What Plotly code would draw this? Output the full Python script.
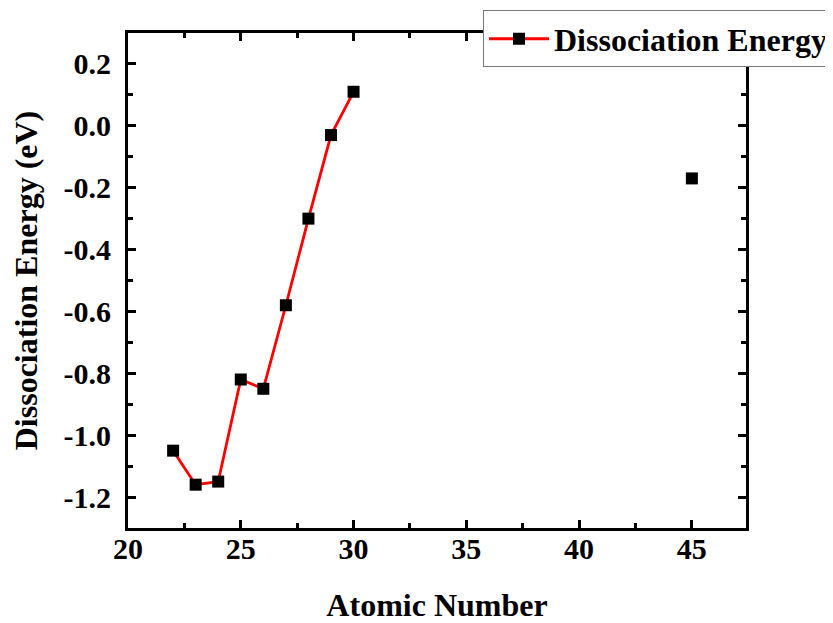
import plotly.graph_objects as go

atomic_number = [22, 23, 24, 25, 26, 27, 28, 29, 30, None, 45]
dissociation_energy = [-1.05, -1.16, -1.15, -0.82, -0.85, -0.58, -0.30, -0.03, 0.11, None, -0.17]

x_tick_vals = [20, 25, 30, 35, 40, 45]
x_tick_text = ["20", "25", "30", "35", "40", "45"]
y_tick_vals = [0.2, 0.0, -0.2, -0.4, -0.6, -0.8, -1.0, -1.2]
y_tick_text = ["0.2", "0.0", "-0.2", "-0.4", "-0.6", "-0.8", "-1.0", "-1.2"]

FONT = "Liberation Serif"

fig = go.Figure()
fig.add_trace(go.Scatter(
    x=atomic_number, y=dissociation_energy, mode="lines+markers",
    name="<b>Dissociation Energy</b>",
    line=dict(color="#ff0000", width=2.8),
    marker=dict(symbol="square", size=12, color="black"),
    connectgaps=False,
))

axis_common = dict(
    showline=True, linecolor="black", linewidth=3, mirror="allticks",
    ticks="inside", ticklen=8, tickwidth=3, tickcolor="black",
    showgrid=False, zeroline=False,
    tickfont=dict(family=FONT, size=30, color="black", weight="bold"),
)

fig.update_xaxes(
    range=[20, 47.4], tickvals=x_tick_vals, ticktext=x_tick_text,
    ticklabelstandoff=-8,
    minor=dict(ticks="inside", ticklen=5, tickwidth=3, tickcolor="black", dtick=2.5, tick0=20),
    title=dict(text="<b>Atomic Number</b>", font=dict(family=FONT, size=32, color="black"), standoff=38),
    **axis_common,
)
fig.update_yaxes(
    range=[-1.3, 0.3], tickvals=y_tick_vals, ticktext=y_tick_text,
    ticklabelstandoff=8,
    minor=dict(ticks="inside", ticklen=5, tickwidth=3, tickcolor="black", dtick=0.1, tick0=0),
    title=dict(text="<b>Dissociation Energy (eV)</b>", font=dict(family=FONT, size=32, color="black"), standoff=18),
    **axis_common,
)

fig.update_layout(
    width=825, height=615,
    margin=dict(l=120, r=87, t=25, b=95, autoexpand=False),
    paper_bgcolor="white", plot_bgcolor="white",
    showlegend=True,
    legend=dict(
        xref="container", yref="container", x=1.0, y=0.996, xanchor="right", yanchor="top",
        bgcolor="white", bordercolor="#777777", borderwidth=1,
        font=dict(family=FONT, size=32, color="black"),
        itemwidth=60,
    ),
)

fig.write_html("out.html")
